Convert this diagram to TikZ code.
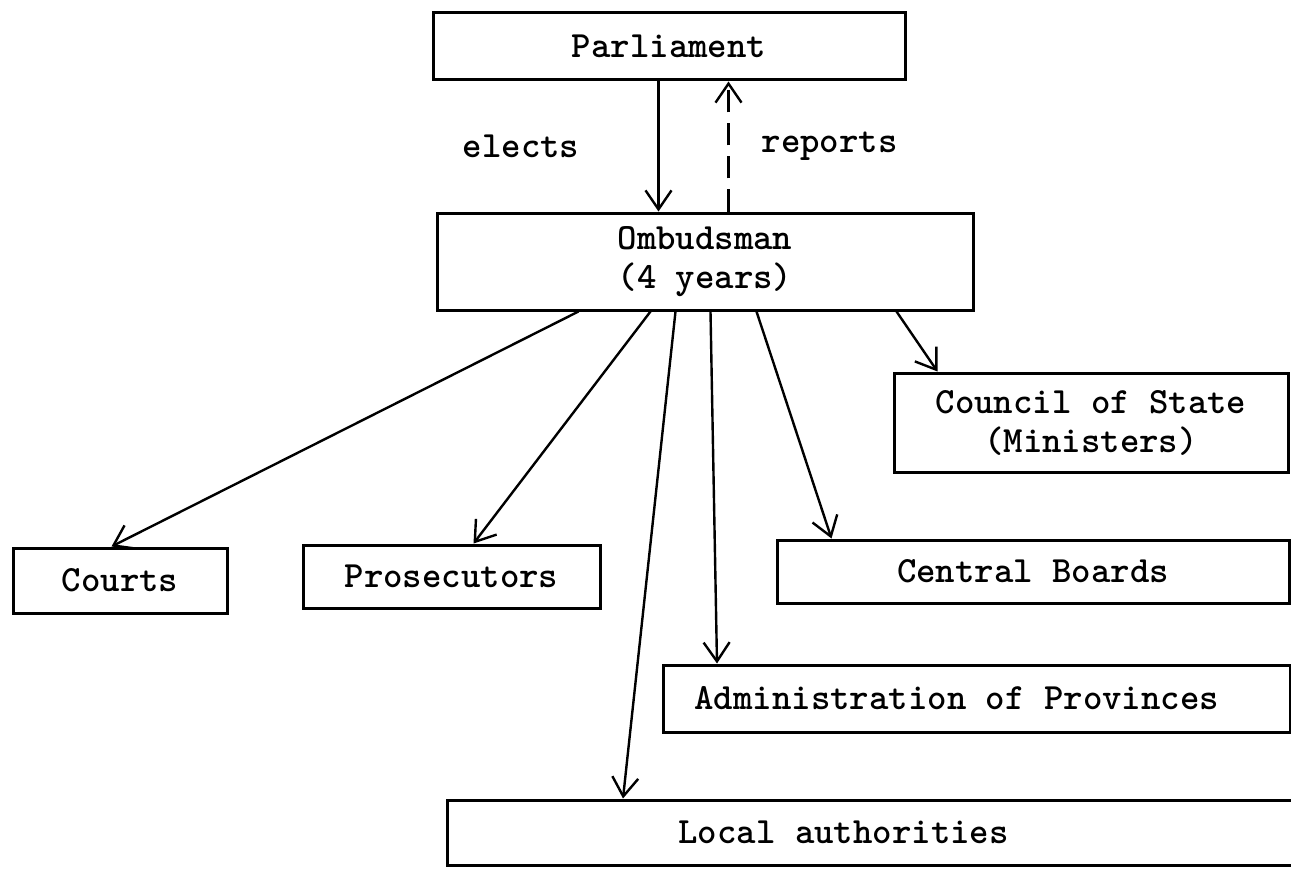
\documentclass[tikz,border=0pt]{standalone}
\usepackage{fontspec}
\usepackage{tikz}
\usetikzlibrary{arrows.meta,positioning}

\begin{document}
\begin{tikzpicture}[x=1pt, y=-1pt,
      box/.style={draw, line width=3pt, inner sep=0pt,
                  font=\ttfamily\bfseries\fontsize{37}{39}\selectfont, align=center},
      openbox/.style={box, anchor=west, align=flush left},
      lbl/.style={inner sep=0pt, font=\ttfamily\bfseries\fontsize{37}{39}\selectfont},
      arr/.style={-{Straight Barb[length=19pt, width=26pt, line width=2.4pt]}, line width=2.4pt},
      rep/.style={arr, dash pattern=on 22pt off 11pt}
  ]
    \useasboundingbox (0,0) rectangle (1291,872);
    % top of the chart
    \node[box, minimum width=472pt, minimum height=67pt] (parl) at (669,46.5) {Parliament};
    \node[box, minimum width=536pt, minimum height=97pt] (omb) at (705,261.5) {Ombudsman\\(4 years)};
    \draw[arr] ([xshift=227pt]parl.south west) -- ([xshift=223pt]omb.north west)
        node[lbl, midway, left=78pt] (elects) {elects};
    \draw[rep] ([xshift=293pt]omb.north west) -- ([xshift=297pt]parl.south west)
        node[lbl, midway, right=32pt] (reports) {reports};
    % supervised bodies
    \node[box, minimum width=394pt, minimum height=99pt] (council) at (1091,422.5) {Council of State\\(Ministers)};
    \node[box, minimum width=214pt, minimum height=65pt] (courts) at (120,580.5) {Courts};
    \node[box, minimum width=297pt, minimum height=63pt] (pros) at (451.5,576.5) {Prosecutors};
    \node[box, minimum width=512pt, minimum height=63pt] (central) at (1033,571.5) {Central Boards};
    \node[openbox, minimum height=67pt, text width=565pt, inner xsep=31pt] (prov) at (662,698.5) {Administration of Provinces};
    \node[openbox, minimum height=65pt, text width=392pt, inner xsep=231pt] (local) at (446,832.5) {Local authorities};
    % arrows from the Ombudsman
    \draw[arr] ([xshift=143pt]omb.south west) -- ([xshift=100pt]courts.north west);
    \draw[arr] ([xshift=215pt]omb.south west) -- ([xshift=172pt]pros.north west);
    \draw[arr] ([xshift=240pt]omb.south west) -- ([xshift=177pt]local.north west);
    \draw[arr] ([xshift=275pt]omb.south west) -- ([xshift=55pt]prov.north west);
    \draw[arr] ([xshift=321pt]omb.south west) -- ([xshift=56pt]central.north west);
    \draw[arr] ([xshift=461pt]omb.south west) -- ([xshift=45pt]council.north west);
\end{tikzpicture}
\end{document}
